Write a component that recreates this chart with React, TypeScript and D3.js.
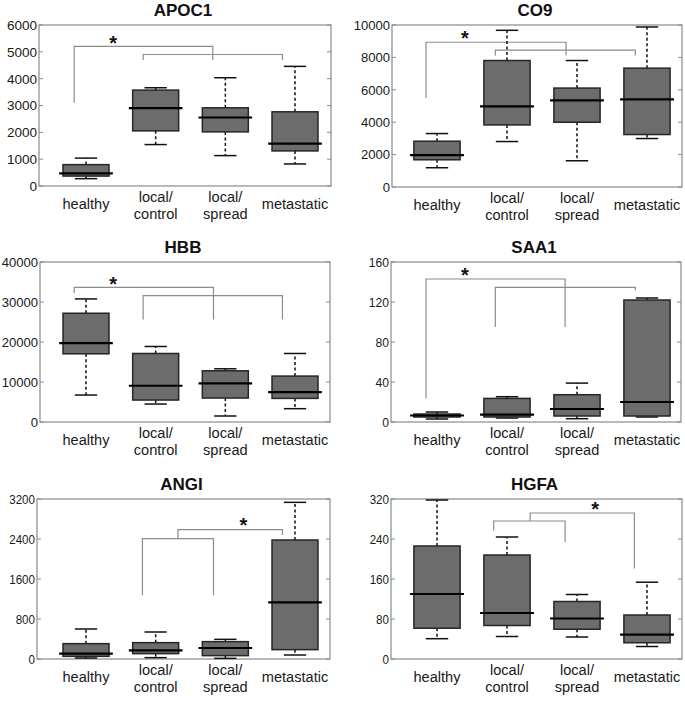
import React from 'react';
import * as d3 from 'd3';

const categories = ['healthy', 'local/control', 'local/spread', 'metastatic'];

// [lower whisker, Q1, median, Q3, upper whisker] per category
const APOC1 = [[274, 370, 473, 797, 1040], [1544, 2055, 2902, 3574, 3661], [1133, 2017, 2553, 2914, 4035], [822, 1308, 1582, 2765, 4458]];
const CO9 = [[1189, 1680, 1967, 2828, 3299], [2807, 3832, 4980, 7807, 9672], [1619, 3996, 5348, 6107, 7807], [2992, 3238, 5410, 7336, 9877]];
const HBB = [[6740, 17050, 19710, 27190, 30770], [4490, 5490, 9060, 17130, 18880], [1500, 5990, 9650, 12800, 13300], [3330, 5900, 7480, 11480, 17130]];
const SAA1 = [[3, 5, 6.5, 8, 10], [4, 5, 7.3, 23.6, 25.3], [3.3, 6, 13, 27.3, 38.9], [5, 6, 20, 122, 124]];
const ANGI = [[20, 53, 107, 307, 600], [27, 107, 173, 327, 540], [13, 67, 220, 347, 393], [80, 187, 1133, 2380, 3133]];
const HGFA = [[40.6, 61.6, 130, 226, 318], [45, 67, 92, 208, 244], [44, 59.5, 81, 115, 129], [25, 32.5, 48.7, 88, 153.6]];

const APOC1_TICKS = [0, 1000, 2000, 3000, 4000, 5000, 6000];
const CO9_TICKS = [0, 2000, 4000, 6000, 8000, 10000];
const HBB_TICKS = [0, 10000, 20000, 30000, 40000];
const SAA1_TICKS = [0, 40, 80, 120, 160];
const ANGI_TICKS = [0, 800, 1600, 2400, 3200];
const HGFA_TICKS = [0, 80, 160, 240, 320];

// significance brackets: [x1, x2, top value, left leg bottom, right leg bottom]
const APOC1_BRACKETS = [[0.83, 2.82, 5200, 3100, 4700], [1.82, 3.82, 4900, 4700, 4700]];
const CO9_BRACKETS = [[0.843, 2.843, 8934, 5492, 8115], [1.833, 3.833, 8443, 8115, 8115]];
const HBB_BRACKETS = [[0.83, 2.83, 33680, 32270, 25610], [1.82, 3.82, 31600, 25610, 25610]];
const SAA1_BRACKETS = [[0.843, 2.83, 143, 23.6, 95], [1.833, 3.833, 134.7, 95, 131.7]];
const ANGI_BRACKETS = [[1.81, 2.83, 2407, 1273, 1273], [2.32, 3.82, 2587, 2407, 2480]];
const HGFA_BRACKETS = [[1.81, 2.83, 276, 257, 234], [2.33, 3.82, 292, 276, 181]];

// star position: [x (category units), y value]
const APOC1_STAR = [1.39, 5465];
const CO9_STAR = [1.4, 9426];
const HBB_STAR = [1.39, 35426];
const SAA1_STAR = [1.4, 151.4];
const ANGI_STAR = [3.26, 2753];
const HGFA_STAR = [3.26, 308.5];

const PANELS = [
  { name: 'APOC1', data: APOC1, ticks: APOC1_TICKS, brackets: APOC1_BRACKETS, star: APOC1_STAR, left: 39, right: 331, top: 25, bottom: 186, c1: 86, c4: 295, tickScale: 1.0 },
  { name: 'CO9', data: CO9, ticks: CO9_TICKS, brackets: CO9_BRACKETS, star: CO9_STAR, left: 392, right: 682, top: 25, bottom: 187, c1: 437, c4: 647, tickScale: 0.97 },
  { name: 'HBB', data: HBB, ticks: HBB_TICKS, brackets: HBB_BRACKETS, star: HBB_STAR, left: 40, right: 330, top: 262, bottom: 422, c1: 86, c4: 295, tickScale: 0.97 },
  { name: 'SAA1', data: SAA1, ticks: SAA1_TICKS, brackets: SAA1_BRACKETS, star: SAA1_STAR, left: 391, right: 681, top: 262, bottom: 422, c1: 437, c4: 647, tickScale: 0.9 },
  { name: 'ANGI', data: ANGI, ticks: ANGI_TICKS, brackets: ANGI_BRACKETS, star: ANGI_STAR, left: 37, right: 330, top: 499, bottom: 659, c1: 86, c4: 295, tickScale: 0.86 },
  { name: 'HGFA', data: HGFA, ticks: HGFA_TICKS, brackets: HGFA_BRACKETS, star: HGFA_STAR, left: 391, right: 682, top: 499, bottom: 659, c1: 437, c4: 647, tickScale: 0.86 },
];

const FONT = '"Liberation Sans", Arial, sans-serif';

function Panel({ p }: { p: any }) {
  const x = d3.scaleLinear().domain([1, 4]).range([p.c1, p.c4]);
  const y = d3.scaleLinear().domain([0, p.ticks[p.ticks.length - 1]]).range([p.bottom, p.top]);
  const unit = x(2) - x(1);
  const boxW = unit * 0.66;
  const medW = unit * 0.77;
  const capW = unit * 0.32;
  const cx = (p.left + p.right) / 2;
  const labSX = 0.96;
  const labFS = 15.2;
  return (
    <g>
      <text x={cx - 2} y={p.top - 9} textAnchor="middle" fontFamily={FONT} fontWeight="bold" fontSize={17} fill="#111">{p.name}</text>
      <rect x={p.left} y={p.top} width={p.right - p.left} height={p.bottom - p.top} fill="none" stroke="#8a8a8a" strokeWidth={1.2} />
      {p.ticks.map((t: number) => (
        <g key={t}>
          <line x1={p.left} x2={p.left + 4} y1={y(t)} y2={y(t)} stroke="#8a8a8a" />
          <line x1={p.right} x2={p.right - 4} y1={y(t)} y2={y(t)} stroke="#8a8a8a" />
          <text transform={`translate(${p.left - 2},${y(t)}) scale(${p.tickScale},1)`} dy="0.36em" textAnchor="end" fontFamily={FONT} fontSize={13.5} fill="#1a1a1a">{t}</text>
        </g>
      ))}
      {p.brackets.map((b: number[], i: number) => (
        <path key={i} d={`M${x(b[0])},${y(b[3])}V${y(b[2])}H${x(b[1])}V${y(b[4])}`} fill="none" stroke="#8c8c8c" strokeWidth={1.2} />
      ))}
      <text x={x(p.star[0])} y={y(p.star[1]) + 11} textAnchor="middle" fontFamily={FONT} fontWeight="bold" fontSize={20} fill="#111">*</text>
      {p.data.map((d: number[], i: number) => {
        const c = x(i + 1);
        return (
          <g key={i}>
            <line x1={c} x2={c} y1={y(d[3])} y2={y(d[4])} stroke="#111" strokeWidth={1.5} strokeDasharray="3,2.5" />
            <line x1={c} x2={c} y1={y(d[1])} y2={y(d[0])} stroke="#111" strokeWidth={1.5} strokeDasharray="3,2.5" />
            <line x1={c - capW / 2} x2={c + capW / 2} y1={y(d[4])} y2={y(d[4])} stroke="#111" strokeWidth={1.5} />
            <line x1={c - capW / 2} x2={c + capW / 2} y1={y(d[0])} y2={y(d[0])} stroke="#111" strokeWidth={1.5} />
            <rect x={c - boxW / 2} y={y(d[3])} width={boxW} height={Math.max(0.5, y(d[1]) - y(d[3]))} fill="#6c6c6c" stroke="#262626" strokeWidth={1.5} />
            <line x1={c - medW / 2} x2={c + medW / 2} y1={y(d[2])} y2={y(d[2])} stroke="#000" strokeWidth={2.2} />
          </g>
        );
      })}
      {categories.map((cat, i) => {
        const parts = cat.split('/');
        const c = x(i + 1);
        if (parts.length === 1) {
          return <text key={cat} transform={`translate(${c},${p.bottom + 23}) scale(${labSX},1)`} textAnchor="middle" fontFamily={FONT} fontSize={labFS} fill="#1a1a1a">{cat}</text>;
        }
        return (
          <text key={cat} transform={`translate(${c},${p.bottom + 16}) scale(${labSX},1)`} textAnchor="middle" fontFamily={FONT} fontSize={labFS} fill="#1a1a1a">
            <tspan x={0} y={0}>{parts[0] + '/'}</tspan>
            <tspan x={0} y={17.2}>{parts[1]}</tspan>
          </text>
        );
      })}
    </g>
  );
}

export default function App() {
  return (
    <svg width={685} height={701} style={{ position: 'absolute', left: 0, top: 0, background: '#fff' }}>
      <rect width={685} height={701} fill="#fff" />
      {PANELS.map((p) => <Panel key={p.name} p={p} />)}
    </svg>
  );
}
